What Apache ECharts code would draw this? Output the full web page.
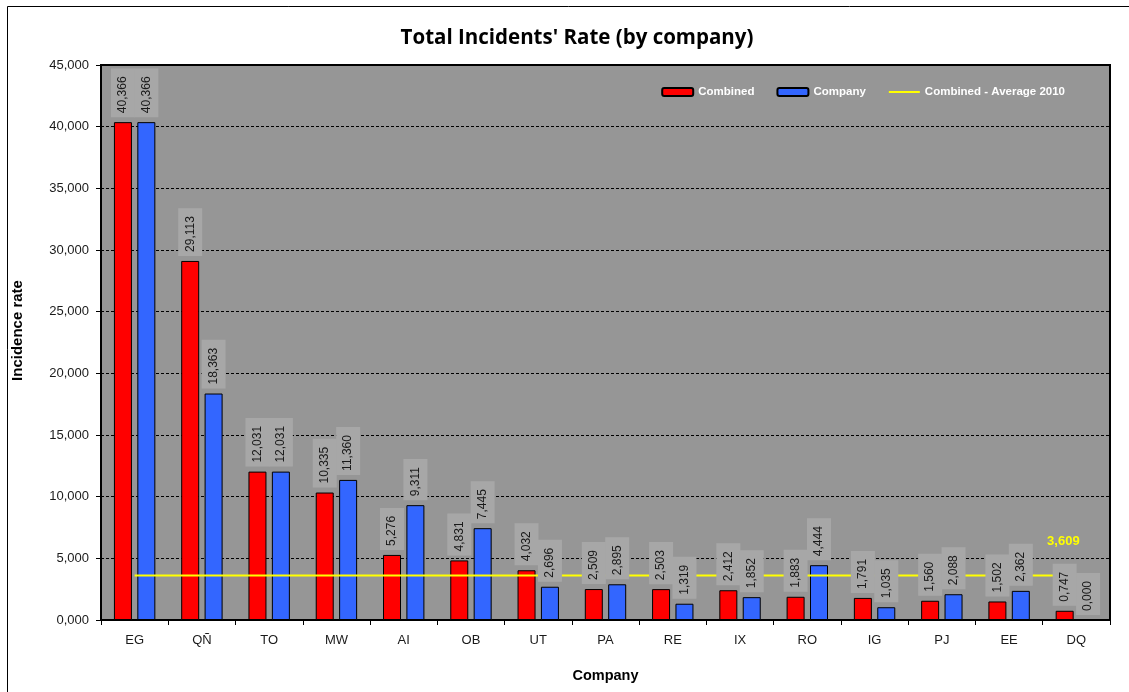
<!DOCTYPE html>
<html>
<head>
<meta charset="utf-8">
<script src="https://cdn.jsdelivr.net/npm/echarts@6/dist/echarts.min.js"></script>
<style>
  html, body { margin: 0; padding: 0; background: #fff; }
  #chart { width: 1129px; height: 692px; }
</style>
</head>
<body>
<div id="chart"></div>
<script>
// Incidence rate per company: combined figures vs. company figures
const categories = ['EG', 'QÑ', 'TO', 'MW', 'AI', 'OB', 'UT', 'PA', 'RE', 'IX', 'RO', 'IG', 'PJ', 'EE', 'DQ'];
const combined = [40.366, 29.113, 12.031, 10.335, 5.276, 4.831, 4.032, 2.509, 2.503, 2.412, 1.883, 1.791, 1.560, 1.502, 0.747];
const company  = [40.366, 18.363, 12.031, 11.360, 9.311, 7.445, 2.696, 2.895, 1.319, 1.852, 4.444, 1.035, 2.088, 2.362, 0.000];
const combinedAverage2010 = 3.609;
const yTicks = { min: 0, max: 45, interval: 5 };

// comma as decimal separator, three decimals
const fmt = v => Number(v).toFixed(3).replace('.', ',');

const sans = '"Liberation Sans", Arial, sans-serif';

const barLabel = {
  show: true,
  position: 'top',
  distance: 5,
  rotate: 90,
  align: 'left',
  verticalAlign: 'middle',
  formatter: p => fmt(p.value),
  fontFamily: sans,
  fontSize: 12,
  color: '#1a1a1a',
  backgroundColor: '#a7a7a7',
  padding: [6, 8, 6, 4]
};

const barCommon = { barWidth: 18, barGap: '30%' };

const avgData = categories.map(() => combinedAverage2010);

const chart = echarts.init(document.getElementById('chart'), null, { renderer: 'canvas' });
chart.setOption({
  animation: false,
  backgroundColor: '#ffffff',
  title: {
    text: "Total Incidents' Rate (by company)",
    left: 572, top: 23, textAlign: 'center',
    textStyle: { fontFamily: '"Open Sans", sans-serif', fontWeight: 'bold', fontSize: 20.5, color: '#000' }
  },
  graphic: [{
    type: 'rect', silent: true, z: -1,
    shape: { x: 7.5, y: 6.5, width: 1300, height: 900 },
    style: { fill: 'none', stroke: '#000', lineWidth: 1 }
  }],
  legend: {
    right: 59, top: 81,
    itemWidth: 31, itemHeight: 8, itemGap: 22,
    textStyle: { color: '#ffffff', fontFamily: sans, fontWeight: 'bold', fontSize: 11.5 },
    data: [
      { name: 'Combined' },
      { name: 'Company' },
      { name: 'Combined - Average 2010', itemStyle: { opacity: 0 }, lineStyle: { width: 2 } }
    ]
  },
  grid: {
    left: 101, right: 19, top: 65, bottom: 72,
    show: true, backgroundColor: '#969696', borderColor: '#000', borderWidth: 2
  },
  xAxis: [{
    type: 'category',
    data: categories,
    name: 'Company',
    nameLocation: 'middle',
    nameGap: 48,
    nameTextStyle: { fontFamily: sans, fontWeight: 'bold', fontSize: 14.5, color: '#000' },
    axisLine: { lineStyle: { color: '#000', width: 2 } },
    axisTick: { show: true, length: 5, lineStyle: { color: '#000', width: 1 } },
    axisLabel: { margin: 14, fontFamily: sans, fontSize: 13, color: '#1a1a1a' }
  }, {
    // twin axis carrying the value captions above the bars
    type: 'category',
    data: categories,
    show: false
  }],
  yAxis: {
    type: 'value',
    min: yTicks.min, max: yTicks.max, interval: yTicks.interval,
    name: 'Incidence rate',
    nameLocation: 'middle',
    nameRotate: 90,
    nameGap: 76,
    nameTextStyle: { fontFamily: sans, fontWeight: 'bold', fontSize: 15, color: '#000', padding: [0, 0, 0, 24] },
    axisLine: { show: true, lineStyle: { color: '#000', width: 2 } },
    axisTick: { show: true, length: 5, lineStyle: { color: '#000', width: 1 } },
    axisLabel: { margin: 12, fontFamily: sans, fontSize: 13, color: '#1a1a1a', formatter: v => fmt(v) },
    splitLine: { show: true, lineStyle: { color: '#000', width: 1, type: [3, 2] } }
  },
  series: [
    {
      name: 'Combined', type: 'bar', data: combined, z: 2, ...barCommon,
      itemStyle: { color: '#ff0000', borderColor: '#000', borderWidth: 1 }
    },
    {
      name: 'Company', type: 'bar', data: company, z: 2, ...barCommon,
      itemStyle: { color: '#3366ff', borderColor: '#000', borderWidth: 1 }
    },
    {
      name: 'Combined - Average 2010', type: 'line', data: avgData, z: 3,
      symbol: 'none',
      lineStyle: { color: '#ffff00', width: 2 },
      itemStyle: { color: '#ffff00' },
      markPoint: {
        symbol: 'circle', symbolSize: 0, silent: true,
        data: [{ coord: [categories.length - 1, combinedAverage2010], value: combinedAverage2010 }],
        label: {
          show: true, position: 'inside', offset: [-13, -34],
          formatter: p => fmt(p.value),
          color: '#ffff00', fontFamily: sans, fontWeight: 'bold', fontSize: 13
        }
      }
    },
    {
      name: 'Combined values', type: 'bar', xAxisIndex: 1, data: combined, z: 5, ...barCommon,
      itemStyle: { color: 'rgba(0,0,0,0)', borderWidth: 0 },
      label: barLabel, silent: true
    },
    {
      name: 'Company values', type: 'bar', xAxisIndex: 1, data: company, z: 5, ...barCommon,
      itemStyle: { color: 'rgba(0,0,0,0)', borderWidth: 0 },
      label: barLabel, silent: true
    }
  ]
});
</script>
</body>
</html>
